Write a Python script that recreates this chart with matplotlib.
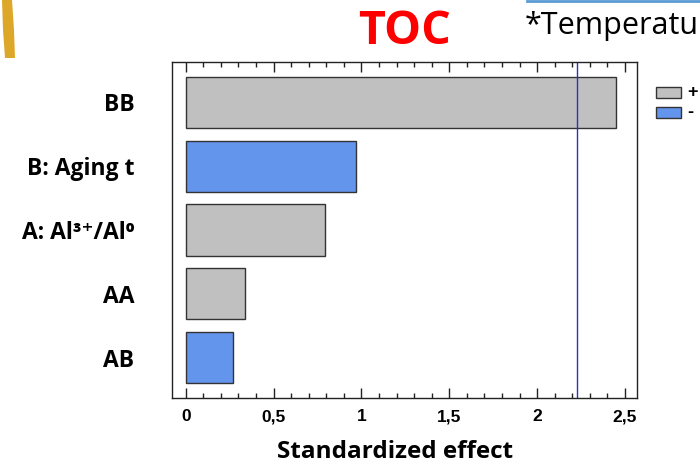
import matplotlib.pyplot as plt
from matplotlib.patches import Rectangle, Polygon
from matplotlib.ticker import MultipleLocator, FuncFormatter

# Pareto chart of standardized effects for TOC
terms = ["BB", "B: Aging t", "A: Al³⁺/Al⁰", "AA", "AB"]
effects = [2.447, 0.968, 0.795, 0.338, 0.271]
signs = ["+", "-", "+", "+", "-"]
critical_value = 2.229

colors = {"+": "#C0C0C0", "-": "#6495ED"}
label_font = ["Open Sans", "DejaVu Sans"]

W, H = 700, 466
fig = plt.figure(figsize=(W / 100, H / 100), dpi=100)

# axes box in pixel units
left, right, top, bottom = 172, 637, 62, 398
ax = fig.add_axes([left / W, 1 - bottom / H, (right - left) / W, (bottom - top) / H])

ypos = list(range(len(terms)))[::-1]
ax.barh(ypos, effects, height=0.8, left=0,
        color=[colors[s] for s in signs], edgecolor="#333333", linewidth=1.0)
ax.axvline(critical_value, color="#2E2ECC", lw=1.0)

ax.set_xlim(-0.078, 2.568)
ax.set_ylim(-0.628, 4.628)

ax.set_yticks(ypos)
ax.set_yticklabels(terms, fontfamily=label_font, fontweight="bold", fontsize=16.5)
ax.tick_params(axis="y", length=0, pad=27)

ax.xaxis.set_major_locator(MultipleLocator(0.5))
ax.xaxis.set_minor_locator(MultipleLocator(0.1))
ax.xaxis.set_major_formatter(FuncFormatter(lambda v, p: f"{v:g}".replace(".", ",")))
ax.tick_params(axis="x", which="both", direction="in", top=True, bottom=True,
               labelsize=12.5, pad=8, color="#222222")
ax.tick_params(axis="x", which="major", length=7, width=1)
ax.tick_params(axis="x", which="minor", length=3.5, width=1)
for lbl in ax.get_xticklabels():
    lbl.set_fontfamily("Liberation Sans")
    lbl.set_fontweight("bold")

for sp in ax.spines.values():
    sp.set_linewidth(1.0)
    sp.set_color("#222222")

ax.set_xlabel("Standardized effect", fontfamily="Open Sans", fontweight="bold",
              fontsize=17.5)
ax.xaxis.set_label_coords((395.5 - left) / (right - left), -(452 - bottom) / (bottom - top))
ax.xaxis.label.set_va("center")

# legend for effect sign, drawn in pixel positions
legend_rows = [("+", 87), ("-", 107)]
for sign, y0 in legend_rows:
    fig.add_artist(Rectangle((656 / W, 1 - (y0 + 11) / H), 25 / W, 11 / H,
                             facecolor=colors[sign], edgecolor="#333333", lw=1.0,
                             transform=fig.transFigure))
    fig.text(687 / W, 1 - (y0 + 5.5) / H, sign, fontfamily="Liberation Sans",
             fontweight="bold", fontsize=13, ha="left", va="center")

# title and slide header pieces
fig.text(405 / W, 1 - 31 / H, "TOC", color="red", fontfamily="Open Sans",
         fontweight="bold", fontsize=33.5, ha="center", va="center")
fig.text(525 / W, 1 - 26 / H, "*Temperatu", color="black", fontfamily="Open Sans",
         fontsize=22, ha="left", va="center")
fig.add_artist(plt.Line2D([527 / W, 1.0], [1 - 1 / H, 1 - 1 / H], color="#5B9BD5",
                          lw=2.0, transform=fig.transFigure))

# gold arc at the left edge
arc = Polygon([(2 / W, 1.0), (12 / W, 1.0), (14 / W, 1 - 30 / H), (15 / W, 1 - 58 / H),
               (5 / W, 1 - 58 / H), (3 / W, 1 - 30 / H)],
              closed=True, facecolor="#DDA82A", edgecolor="none",
              transform=fig.transFigure)
fig.add_artist(arc)

fig.savefig("out.png", dpi=100)
